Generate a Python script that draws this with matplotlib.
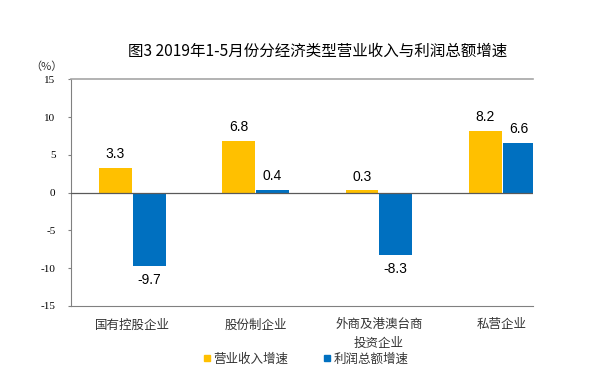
import numpy as np
import matplotlib
matplotlib.use('Agg')
import matplotlib.pyplot as plt
from matplotlib.lines import Line2D

plt.rcParams['font.family'] = ['Noto Sans CJK SC', 'DejaVu Sans']
plt.rcParams['axes.unicode_minus'] = False

# 数据
categories = ['国有控股企业', '股份制企业', '外商及港澳台商\n投资企业', '私营企业']
revenue_growth = [3.3, 6.8, 0.3, 8.2]   # 营业收入增速
profit_growth = [-9.7, 0.4, -8.3, 6.6]  # 利润总额增速
series_names = ['营业收入增速', '利润总额增速']
y_ticks = [-15, -10, -5, 0, 5, 10, 15]

c_rev = '#FFC000'
c_pro = '#0070C0'

fig = plt.figure(figsize=(6, 3.81), dpi=100)
ax = fig.add_axes([0.1178, 0.1969, 0.7705, 0.5945])

x = np.arange(len(categories))
w = 0.265
off = 0.137
b1 = ax.bar(x - off, revenue_growth, w, color=c_rev, zorder=2)
b2 = ax.bar(x + off, profit_growth, w, color=c_pro, zorder=2)

# 数据标签
for bars, vals in ((b1, revenue_growth), (b2, profit_growth)):
    for b, v in zip(bars, vals):
        cx = b.get_x() + b.get_width() / 2
        if v >= 0:
            ax.annotate(f'{v:.1f}', (cx, v), xytext=(0, 5), textcoords='offset points',
                        ha='center', va='bottom', fontsize=10, family='Liberation Sans',
                        color='#000000', annotation_clip=False)
        else:
            ax.annotate(f'{v:.1f}', (cx, v), xytext=(0, -5), textcoords='offset points',
                        ha='center', va='top', fontsize=10, family='Liberation Sans',
                        color='#000000', annotation_clip=False)

ax.set_xlim(-0.5, 3.25)
ax.set_ylim(-15, 15)
ax.axhline(0, color='#595959', lw=0.9, zorder=3)

ax.spines['right'].set_visible(False)
ax.spines['top'].set_color('#A6A6A6')
ax.spines['top'].set_linewidth(1.2)
ax.spines['left'].set_color('#808080')
ax.spines['bottom'].set_color('#808080')

ax.set_yticks(y_ticks)
ax.set_yticklabels([str(t) for t in y_ticks], family='Liberation Serif', fontsize=8)
ax.tick_params(axis='y', direction='out', length=2, color='#808080', pad=9)

ax.set_xticks(x)
ax.set_xticklabels(categories, fontsize=9, color='#333333', linespacing=1.5)
ax.tick_params(axis='x', length=0, pad=9)

fig.text(0.53, 0.866, '图3 2019年1-5月份分经济类型营业收入与利润总额增速',
         ha='center', va='center', fontsize=11.2, color='#000000')
fig.text(0.077, 0.824, '（%）', ha='center', va='center', fontsize=8, color='#333333')

handles = [Line2D([], [], marker='s', ls='none', color=c_rev, markersize=4.5),
           Line2D([], [], marker='s', ls='none', color=c_pro, markersize=4.5)]
fig.legend(handles, series_names, loc='center', bbox_to_anchor=(0.51, 0.058), ncol=2,
           frameon=False, fontsize=9, handlelength=0.5, handletextpad=0.3,
           columnspacing=2.8, labelcolor='#333333')

fig.savefig('out.png', dpi=100)
